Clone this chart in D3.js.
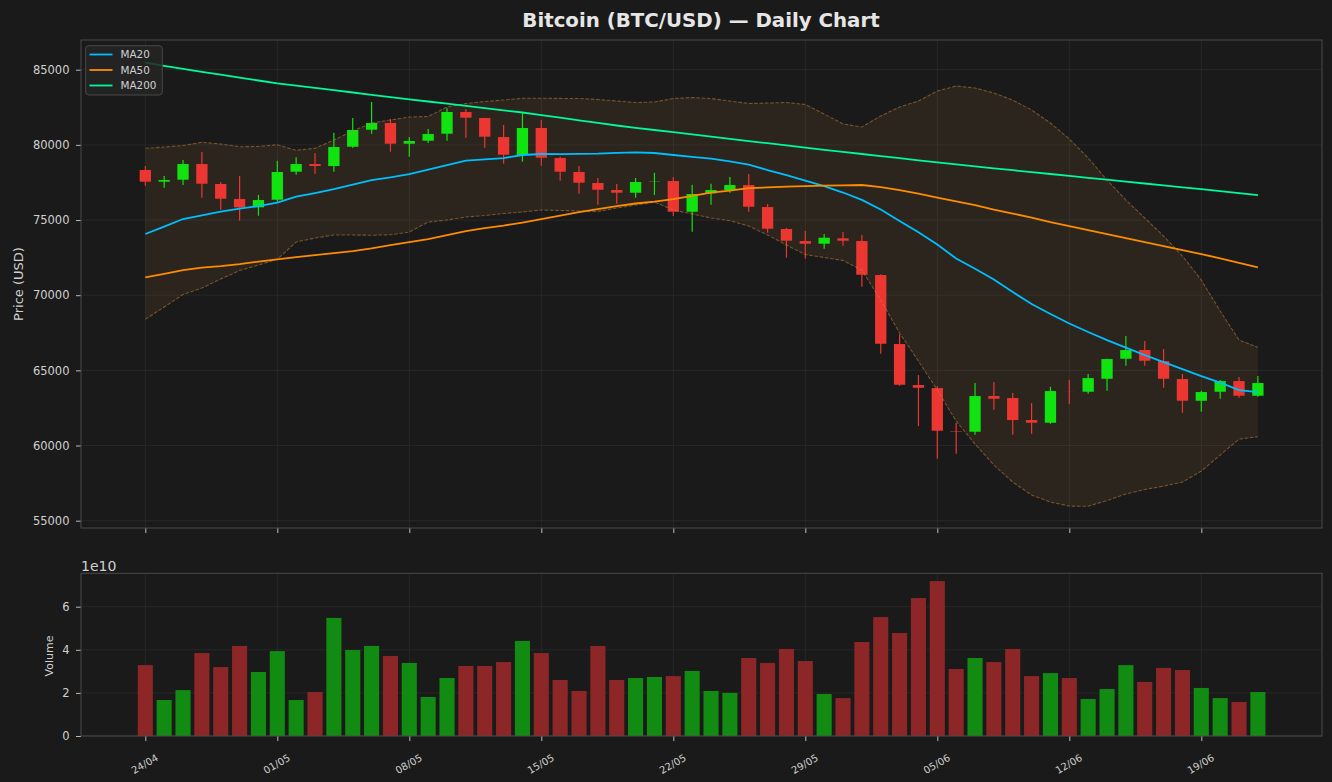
<!DOCTYPE html>
<html>
<head>
<meta charset="utf-8">
<script src="https://cdn.jsdelivr.net/npm/d3@7"></script>
<style>
  body { margin: 0; background: #1a1a1a; }
  svg { display: block; font-family: "DejaVu Sans", sans-serif; }
</style>
</head>
<body>
<svg id="chart" width="1332" height="782"></svg>
<script>
// Données (60 jours, du 24/04 au 22/06)
const tickDays = [0, 7, 14, 21, 28, 35, 42, 49, 56];
const tickLabels = ['24/04', '01/05', '08/05', '15/05', '22/05', '29/05', '05/06', '12/06', '19/06'];

const open = [78327, 77549, 77682, 78726, 77396, 76398, 75845, 76351, 78214, 78726,
              78593, 79877, 81008, 81454, 80077, 80276, 80742, 82186, 81787, 80522,
              79325, 81121, 79125, 78194, 77462, 76996, 76817, 77562, 77595, 75553,
              76777, 76996, 77329, 75865, 74402, 73603, 73424, 73783, 73603, 71341,
              66750, 64023, 63823, 60963, 60916, 63291, 63158, 61694, 61515, 63605,
              63578, 64442, 65773, 66352, 65620, 64422, 62978, 63578, 64289, 63311];
const high = [78593, 77928, 78992, 79525, 77529, 77928, 76664, 78946, 79172, 79458,
              80809, 81787, 82851, 81720, 80522, 81055, 82432, 82385, 81800, 81321,
              82099, 81654, 79212, 78593, 77795, 77396, 77795, 78147, 77861, 77329,
              77416, 77861, 78054, 76065, 74468, 74269, 74069, 74202, 74003, 71400,
              67396, 64688, 63957, 61495, 64156, 64222, 63491, 62825, 63910, 64355,
              64755, 65780, 67283, 66950, 66418, 64755, 63644, 64355, 64555, 64622];
const low = [77283, 77149, 77329, 76484, 75686, 74954, 75287, 76218, 78014, 78081,
             78214, 79811, 80742, 79545, 79212, 80123, 80276, 80476, 79811, 78746,
             78879, 78613, 77615, 76750, 76018, 76085, 76484, 76664, 75267, 74222,
             76018, 76817, 75553, 74155, 72492, 72426, 73091, 73291, 70563, 66105,
             63976, 61295, 59120, 59452, 60716, 62380, 60716, 60783, 61448, 62758,
             63444, 63644, 65307, 65307, 63843, 62180, 62247, 63111, 63178, 63245];
const close = [77549, 77662, 78726, 77416, 76418, 75845, 76331, 78194, 78726, 78593,
               79857, 80988, 81454, 80077, 80256, 80722, 82186, 81807, 80542, 79345,
               81121, 79145, 78214, 77482, 77016, 76817, 77529, 77582, 75553, 76730,
               76996, 77329, 75885, 74422, 73623, 73424, 73823, 73623, 71361, 66770,
               64043, 63843, 60983, 60929, 63291, 63111, 61694, 61515, 63624, 63600,
               64488, 65753, 66352, 65640, 64442, 62978, 63557, 64289, 63311, 64156];

const volume = [3.29e10, 1.67e10, 2.13e10, 3.85e10, 3.20e10, 4.18e10, 2.97e10, 3.94e10, 1.67e10, 2.04e10,
                5.48e10, 3.99e10, 4.18e10, 3.71e10, 3.39e10, 1.81e10, 2.69e10, 3.25e10, 3.25e10, 3.43e10,
                4.41e10, 3.85e10, 2.60e10, 2.09e10, 4.18e10, 2.60e10, 2.69e10, 2.74e10, 2.78e10, 3.02e10,
                2.09e10, 2.00e10, 3.62e10, 3.39e10, 4.04e10, 3.48e10, 1.95e10, 1.76e10, 4.36e10, 5.52e10,
                4.78e10, 6.40e10, 7.19e10, 3.11e10, 3.62e10, 3.43e10, 4.04e10, 2.78e10, 2.92e10, 2.69e10,
                1.72e10, 2.18e10, 3.29e10, 2.51e10, 3.16e10, 3.06e10, 2.23e10, 1.76e10, 1.58e10, 2.04e10];

const ma20 = [74069, 74561, 75067, 75313, 75559, 75752, 75932, 76165, 76557, 76797,
              77063, 77362, 77662, 77841, 78061, 78360, 78660, 78959, 79039, 79125,
              79325, 79391, 79380, 79400, 79418, 79471, 79505, 79458, 79325, 79205,
              79092, 78906, 78693, 78327, 77994, 77628, 77249, 76830, 76344, 75699,
              74934, 74182, 73370, 72439, 71754, 71042, 70210, 69412, 68747, 68115,
              67549, 67017, 66518, 66019, 65553, 65088, 64622, 64189, 63690, 63557];
const ma50 = [71188, 71421, 71661, 71840, 71940, 72073, 72240, 72386, 72539, 72672,
              72805, 72938, 73118, 73337, 73537, 73723, 74003, 74255, 74468, 74635,
              74834, 75054, 75300, 75533, 75732, 75932, 76100, 76230, 76398, 76610,
              76830, 76963, 77129, 77169, 77223, 77262, 77289, 77309, 77329, 77183,
              76996, 76764, 76497, 76245, 75998, 75699, 75433, 75167, 74867, 74601,
              74335, 74069, 73803, 73537, 73271, 73005, 72739, 72452, 72153, 71854];
const ma200 = [85466, 85253, 85053, 84860, 84667, 84474, 84281, 84095, 83942, 83789,
               83636, 83483, 83330, 83177, 83031, 82884, 82738, 82592, 82445, 82299,
               82153, 81980, 81807, 81634, 81461, 81288, 81135, 80988, 80842, 80695,
               80549, 80403, 80256, 80110, 79964, 79817, 79671, 79531, 79392, 79252,
               79112, 78972, 78839, 78706, 78573, 78440, 78314, 78187, 78061, 77935,
               77808, 77682, 77555, 77429, 77302, 77176, 77050, 76923, 76797, 76664];

const bbUpper = [79771, 79857, 79957, 80170, 80057, 79877, 79890, 80010, 79638, 79777,
                 80323, 80922, 81454, 81654, 81853, 81886, 82518, 82751, 82884, 82984,
                 83097, 83100, 83090, 83084, 83017, 82918, 82818, 82851, 83084, 83150,
                 83084, 82918, 82751, 82785, 82818, 82685, 82053, 81387, 81188, 81920,
                 82518, 82918, 83583, 83916, 83782, 83450, 82984, 82319, 81454, 80389,
                 79125, 77662, 76331, 75134, 73936, 72605, 71009, 68946, 67017, 66531];
const bbLower = [68394, 69212, 70044, 70476, 71075, 71641, 72007, 72393, 73537, 73803,
                 74003, 74000, 73990, 74020, 74202, 74867, 75000, 75200, 75300, 75433,
                 75533, 75666, 75633, 75599, 75566, 75799, 75998, 76198, 75666, 75400,
                 75134, 74954, 74601, 74003, 73337, 72705, 72506, 72306, 71674, 69678,
                 67483, 65620, 63690, 61628, 60098, 58701, 57570, 56705, 56239, 55973,
                 55960, 56339, 56771, 57071, 57303, 57570, 58301, 59366, 60430, 60583];

const priceTicks = [55000, 60000, 65000, 70000, 75000, 80000, 85000];
const volumeTicks = [0, 2e10, 4e10, 6e10];

// Couleurs
const upColor = '#10e30f';
const downColor = '#ec3631';
const upVolColor = '#128b12';
const downVolColor = '#8d2727';
const bandColor = '#cd853f';
const gridColor = '#2b2b2b';
const spineColor = '#4a4a4a';
const textColor = '#d0d0d0';

const svg = d3.select('#chart');
svg.append('rect').attr('width', 1332).attr('height', 782).attr('fill', '#1a1a1a');

const left = 81, right = 1322;
const priceTop = 40, priceBottom = 528;
const volTop = 573.3, volBottom = 736;

const x = d3.scaleLinear().domain([-3.41, 62.4]).range([left, right]);
const y = d3.scaleLinear().domain([54514, 86976]).range([priceBottom, priceTop]);
const yv = d3.scaleLinear().domain([0, 7.55e10]).range([volBottom, volTop]);

const days = d3.range(open.length);
const isUp = i => close[i] >= open[i];

// Titre
svg.append('text')
   .attr('x', 701).attr('y', 27)
   .attr('text-anchor', 'middle')
   .attr('fill', '#e6e6e6')
   .style('font-size', '19.8px')
   .style('font-weight', 'bold')
   .text('Bitcoin (BTC/USD) \u2014 Daily Chart');

// ---------- Panneau des prix ----------
const gp = svg.append('g');

// Grille
gp.selectAll('.hgrid').data(priceTicks).enter().append('line')
  .attr('x1', left).attr('x2', right)
  .attr('y1', d => y(d)).attr('y2', d => y(d))
  .attr('stroke', gridColor).attr('stroke-width', 0.8);
gp.selectAll('.vgrid').data(tickDays).enter().append('line')
  .attr('x1', d => x(d)).attr('x2', d => x(d))
  .attr('y1', priceTop).attr('y2', priceBottom)
  .attr('stroke', gridColor).attr('stroke-width', 0.8);

// Bandes de Bollinger (remplissage)
const bandArea = d3.area()
  .x(i => x(i))
  .y0(i => y(bbLower[i]))
  .y1(i => y(bbUpper[i]));
gp.append('path')
  .datum(days)
  .attr('d', bandArea)
  .attr('fill', bandColor)
  .attr('fill-opacity', 0.1);

// Bougies
const candleW = 0.6;
gp.selectAll('.wick').data(days).enter().append('line')
  .attr('x1', i => x(i)).attr('x2', i => x(i))
  .attr('y1', i => y(high[i])).attr('y2', i => y(low[i]))
  .attr('stroke', i => isUp(i) ? upColor : downColor)
  .attr('stroke-width', 1.2);
gp.selectAll('.body').data(days).enter().append('rect')
  .attr('x', i => x(i - candleW / 2))
  .attr('width', x(candleW) - x(0))
  .attr('y', i => y(Math.max(open[i], close[i])))
  .attr('height', i => Math.abs(y(open[i]) - y(close[i])))
  .attr('fill', i => isUp(i) ? upColor : downColor);

// Lignes des bandes
const bandLine = arr => d3.line().x(i => x(i)).y(i => y(arr[i]));
[bbUpper, bbLower].forEach(arr => {
  gp.append('path')
    .datum(days)
    .attr('d', bandLine(arr))
    .attr('fill', 'none')
    .attr('stroke', bandColor)
    .attr('stroke-opacity', 0.5)
    .attr('stroke-width', 1.1)
    .attr('stroke-dasharray', '3.7,1.6');
});

// Moyennes mobiles
const maSeries = [
  { name: 'MA20', values: ma20, color: '#00bfff' },
  { name: 'MA50', values: ma50, color: '#ff8c00' },
  { name: 'MA200', values: ma200, color: '#00fa9a' }
];
maSeries.forEach(s => {
  gp.append('path')
    .datum(days)
    .attr('d', bandLine(s.values))
    .attr('fill', 'none')
    .attr('stroke', s.color)
    .attr('stroke-width', 1.8);
});

// Axe Y prix
const yAxis = gp.append('g')
  .attr('transform', `translate(${left},0)`)
  .call(d3.axisLeft(y).tickValues(priceTicks).tickSize(5).tickPadding(6.5).tickFormat(d3.format('d')));
yAxis.select('.domain').remove();
yAxis.selectAll('line').attr('stroke', '#bbbbbb');
yAxis.selectAll('text').attr('fill', textColor).style('font-size', '11.5px').style('font-family', '"DejaVu Sans", sans-serif');

// Graduations X sans texte
const xAxisTop = gp.append('g')
  .attr('transform', `translate(0,${priceBottom})`)
  .call(d3.axisBottom(x).tickValues(tickDays).tickSize(5).tickFormat(''));
xAxisTop.select('.domain').remove();
xAxisTop.selectAll('line').attr('stroke', '#bbbbbb');

// Cadre
gp.append('rect')
  .attr('x', left).attr('y', priceTop)
  .attr('width', right - left).attr('height', priceBottom - priceTop)
  .attr('fill', 'none').attr('stroke', spineColor).attr('stroke-width', 1);

gp.append('text')
  .attr('transform', 'translate(23,284) rotate(-90)')
  .attr('text-anchor', 'middle')
  .attr('fill', textColor)
  .style('font-size', '13px')
  .text('Price (USD)');

// Légende
const legend = gp.append('g');
legend.append('rect')
  .attr('x', 85.7).attr('y', 45.7).attr('width', 76.6).attr('height', 49.3)
  .attr('rx', 3)
  .attr('fill', '#262626').attr('fill-opacity', 0.85)
  .attr('stroke', '#484848');
maSeries.forEach((s, k) => {
  const ly = 54.5 + k * 15.5;
  legend.append('line')
    .attr('x1', 89.5).attr('x2', 112.5).attr('y1', ly).attr('y2', ly)
    .attr('stroke', s.color).attr('stroke-width', 1.8);
  legend.append('text')
    .attr('x', 120.5).attr('y', ly + 3.7)
    .attr('fill', textColor)
    .style('font-size', '10.4px')
    .text(s.name);
});

// ---------- Panneau du volume ----------
const gv = svg.append('g');

gv.selectAll('.hgrid').data(volumeTicks).enter().append('line')
  .attr('x1', left).attr('x2', right)
  .attr('y1', d => yv(d)).attr('y2', d => yv(d))
  .attr('stroke', gridColor).attr('stroke-width', 0.8);
gv.selectAll('.vgrid').data(tickDays).enter().append('line')
  .attr('x1', d => x(d)).attr('x2', d => x(d))
  .attr('y1', volTop).attr('y2', volBottom)
  .attr('stroke', gridColor).attr('stroke-width', 0.8);

const barW = 0.8;
gv.selectAll('.vol').data(days).enter().append('rect')
  .attr('x', i => x(i - barW / 2))
  .attr('width', x(barW) - x(0))
  .attr('y', i => yv(volume[i]))
  .attr('height', i => yv(0) - yv(volume[i]))
  .attr('fill', i => isUp(i) ? upVolColor : downVolColor);

const yvAxis = gv.append('g')
  .attr('transform', `translate(${left},0)`)
  .call(d3.axisLeft(yv).tickValues(volumeTicks).tickSize(5).tickPadding(6.5).tickFormat(d => d / 1e10));
yvAxis.select('.domain').remove();
yvAxis.selectAll('line').attr('stroke', '#bbbbbb');
yvAxis.selectAll('text').attr('fill', textColor).style('font-size', '11.5px').style('font-family', '"DejaVu Sans", sans-serif');

const xAxis = gv.append('g')
  .attr('transform', `translate(0,${volBottom})`)
  .call(d3.axisBottom(x).tickValues(tickDays).tickSize(5).tickFormat((d, k) => tickLabels[k]));
xAxis.select('.domain').remove();
xAxis.selectAll('line').attr('stroke', '#bbbbbb');
xAxis.selectAll('text')
  .attr('fill', textColor)
  .style('font-size', '10px')
  .style('font-family', '"DejaVu Sans", sans-serif')
  .attr('text-anchor', 'middle')
  .attr('y', 0).attr('dy', '0.35em')
  .attr('transform', 'translate(-1,28) rotate(-30)');

gv.append('rect')
  .attr('x', left).attr('y', volTop)
  .attr('width', right - left).attr('height', volBottom - volTop)
  .attr('fill', 'none').attr('stroke', spineColor).attr('stroke-width', 1);

gv.append('text')
  .attr('x', 81).attr('y', 570.5)
  .attr('fill', textColor)
  .style('font-size', '14px')
  .text('1e10');

gv.append('text')
  .attr('transform', 'translate(52.5,656) rotate(-90)')
  .attr('text-anchor', 'middle')
  .attr('fill', textColor)
  .style('font-size', '11px')
  .text('Volume');
</script>
</body>
</html>
